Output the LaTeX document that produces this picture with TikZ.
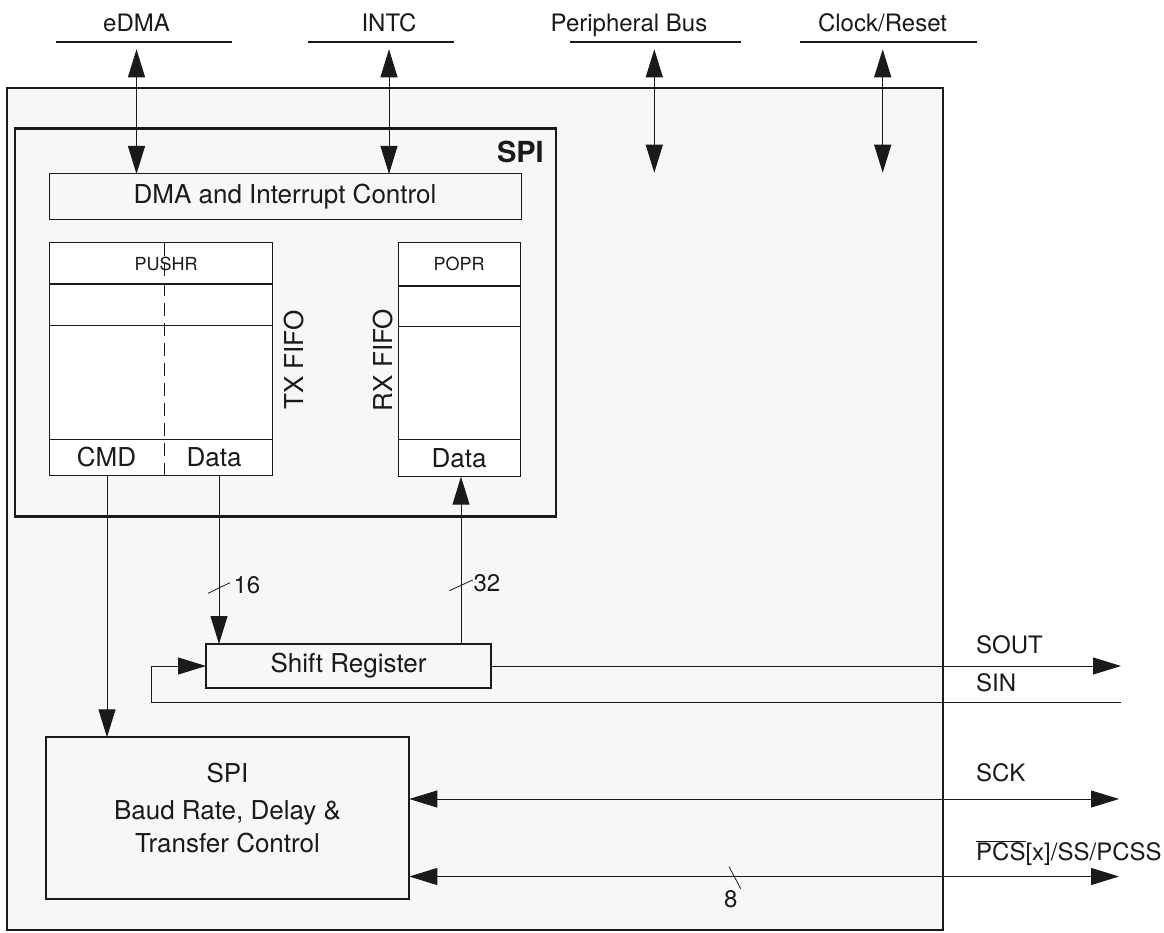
\documentclass[tikz,border=0pt]{standalone}
\usepackage{fontspec}
\setmainfont{TeX Gyre Heros}
\usetikzlibrary{arrows.meta}
\definecolor{bg}{HTML}{F7F7F7}
\definecolor{ink}{HTML}{1A1A1A}
\begin{document}
\begin{tikzpicture}[x=1pt,y=-1pt,
  every node/.style={font=\fontsize{26}{31}\selectfont, text=ink},
  box/.style={draw=ink, inner sep=0pt, outer sep=0pt, anchor=north west},
  thinbox/.style={box, line width=1pt},
  thickbox/.style={box, line width=2pt},
  conn/.style={draw=ink, line width=1pt},
  tip/.style={-{Triangle[length=28pt,width=17pt]}},
  dtip/.style={{Triangle[length=28pt,width=17pt]}-{Triangle[length=28pt,width=17pt]}},
  bar/.style={draw=ink, line width=2pt},
  rowline/.style={draw=ink, line width=1pt},
  rowthick/.style={draw=ink, line width=2pt},
  siglabel/.style={font=\fontsize{24}{28}\selectfont, anchor=base west, inner sep=0pt},
  toplabel/.style={font=\fontsize{24}{28}\selectfont, anchor=base, inner sep=0pt},
  smalllabel/.style={font=\fontsize{18}{22}\selectfont, inner sep=0pt},
  celllabel/.style={inner sep=0pt},
  ticks/.style={draw=ink, line width=0.8pt},
]
\useasboundingbox (0,0) rectangle (1164,933);
\fill[white] (0,0) rectangle (1164,933);

% outer module box
\node[thickbox, fill=bg, minimum width=936pt, minimum height=842pt] (outer) at (6.7,88.3) {};
% SPI box
\node[box, line width=2.5pt, fill=bg, minimum width=541pt, minimum height=388pt] (spi) at (15,128.3) {};
\node[font=\bfseries\fontsize{29}{34}\selectfont, anchor=base east, inner sep=0pt] (spilabel) at (544,162.3) {SPI};

% DMA and interrupt control
\node[thinbox, fill=bg, minimum width=472pt, minimum height=45.3pt] (dma) at (49,174) {DMA and Interrupt Control};

% TX FIFO
\node[thinbox, fill=white, minimum width=223pt, minimum height=232.3pt] (tx) at (49,243) {};
\draw[rowthick] (49,284.3) -- (272,284.3);
\draw[rowline] (49,325) -- (272,325);
\draw[rowline] (49,439) -- (272,439);
\draw[draw=ink, line width=1pt, dash pattern=on 13pt off 7pt] (164,243) -- (164,475.3);
\node[smalllabel] (pushr) at (166,264) {PUSHR};
\node[celllabel] (cmd) at (106.5,457) {CMD};
\node[celllabel] (txdata) at (214,457) {Data};
\node[rotate=90, inner sep=0pt] (txlabel) at (294,360) {TX FIFO};

% RX FIFO
\node[thinbox, fill=white, minimum width=122pt, minimum height=233.7pt] (rx) at (398,243) {};
\draw[rowthick] (398,285.7) -- (520,285.7);
\draw[rowline] (398,326.7) -- (520,326.7);
\draw[rowline] (398,439) -- (520,439);
\node[smalllabel] (popr) at (459,264) {POPR};
\node[celllabel] (rxdata) at (459,458) {Data};
\node[rotate=90, inner sep=0pt] (rxlabel) at (383,360) {RX FIFO};

% Shift register
\node[thickbox, fill=bg, minimum width=285pt, minimum height=44pt] (sr) at (206,644) {Shift Register};

% Baud rate box
\node[thickbox, fill=bg, minimum width=363.6pt, minimum height=161.4pt] (baud) at (45.7,737.3) {};
\node[align=center, inner sep=0pt, font=\fontsize{26}{33}\selectfont] (baudtext) at (227.5,808.5) {SPI\\[4pt]Baud Rate, Delay \&\\Transfer Control};

% top buses
\draw[bar] (55.5,42) -- (232,42);
\draw[bar] (308,42) -- (453.5,42);
\draw[bar] (570,42) -- (741,42);
\draw[bar] (800,42) -- (976.7,42);
\node[toplabel] (edma) at (136.5,31.7) {eDMA};
\node[toplabel] (intc) at (389,31.7) {INTC};
\node[toplabel] (pbus) at (629,31.7) {Peripheral Bus};
\node[toplabel] (clk) at (882.5,31.7) {Clock/Reset};

\coordinate (edmaA) at (136.5,49.3);
\coordinate (intcA) at (389,49.3);
\coordinate (pbA) at (654.3,49.3);
\coordinate (pbB) at (654.3,172.7);
\coordinate (clkA) at (882.7,49.3);
\coordinate (clkB) at (882.7,172.7);
\draw[conn,dtip] (edmaA) -- (edmaA |- dma.north);
\draw[conn,dtip] (intcA) -- (intcA |- dma.north);
\draw[conn,dtip] (pbA) -- (pbB);
\draw[conn,dtip] (clkA) -- (clkB);

% internal connectors
\coordinate (cmdx) at (107,0);
\coordinate (datax) at (219,0);
\coordinate (rxx) at (461,0);
\draw[conn,tip] (tx.south -| cmdx) -- (baud.north -| cmdx);
\draw[conn,tip] (tx.south -| datax) -- (sr.north -| datax);
\draw[conn,tip] (sr.north -| rxx) -- (rx.south -| rxx);
\draw[ticks] (208,593.3) -- (230,582.7);
\node[anchor=base west, inner sep=0pt, font=\fontsize{24}{28}\selectfont] (w16) at (233.3,593) {16};
\draw[ticks] (449.3,590.7) -- (472.7,580);
\node[anchor=base west, inner sep=0pt, font=\fontsize{24}{28}\selectfont] (w32) at (473.3,591) {32};

% external signals
\coordinate (soutE) at (1121,667);
\coordinate (sinE) at (1121,702);
\coordinate (sinC) at (151,702);
\coordinate (sckE) at (1119,799);
\coordinate (pcsE) at (1119,876.5);
\draw[conn,tip] (sr.east) -- (sr.east -| soutE);
\draw[conn,tip] (sinE) -- (sinC) |- (sr.west);
\draw[conn,dtip] (baud.east |- sckE) -- (sckE);
\draw[conn,dtip] (baud.east |- pcsE) -- (pcsE);
\draw[ticks] (729,866.7) -- (740.7,888.7);
\node[inner sep=0pt, font=\fontsize{24}{28}\selectfont] (w8) at (730.7,899.5) {8};

\node[siglabel] (sout) at (976,653.3) {SOUT};
\node[siglabel] (sin) at (976,691) {SIN};
\node[siglabel] (sck) at (976,781) {SCK};
\node[siglabel] (pcs) at (976,860.7) {$\overline{\hbox{PCS}}$[x]/SS/PCSS};
\end{tikzpicture}
\end{document}
